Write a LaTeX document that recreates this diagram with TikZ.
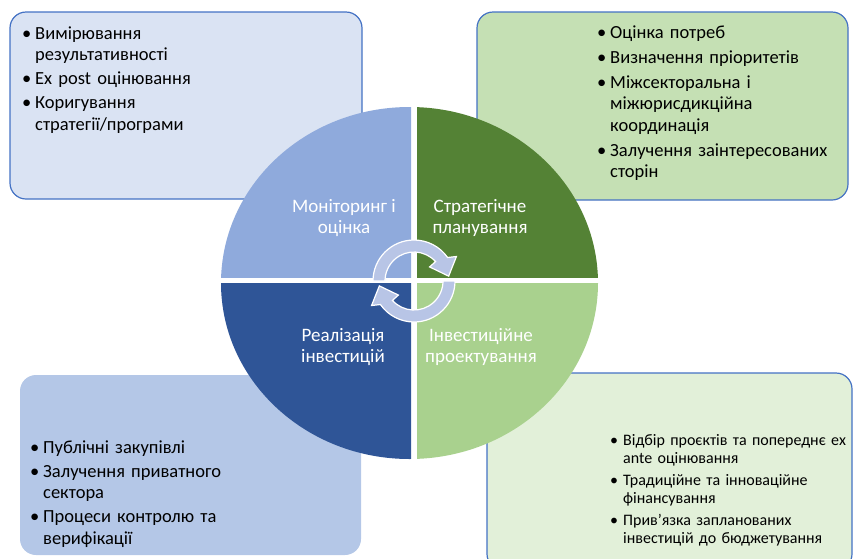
\documentclass[tikz,border=0pt]{standalone}
\usepackage{fontspec}
\setmainfont{Carlito}
\usepackage{tikz}

\definecolor{boxedge}{HTML}{4472C4}
\definecolor{monbox}{HTML}{DAE3F3}
\definecolor{planbox}{HTML}{C5E0B4}
\definecolor{implbox}{HTML}{B4C7E7}
\definecolor{invbox}{HTML}{E2F0D9}
\definecolor{monquad}{HTML}{8FAADC}
\definecolor{planquad}{HTML}{548235}
\definecolor{implquad}{HTML}{2F5597}
\definecolor{invquad}{HTML}{A9D18E}
\definecolor{arrowfill}{RGB}{184,197,230}

\newcommand{\pitem}[1]{\noindent\hangindent=13pt\hangafter=1\makebox[13pt][l]{\textbullet}#1\par}

\tikzset{
	listbox/.style={anchor=base west, inner sep=0pt, align=left, font=\fontsize{18.5}{21.5}\selectfont,
		execute at begin node={\setlength{\parskip}{2.5pt}}},
	phase/.style={text=white, align=center, inner sep=0pt, font=\fontsize{19}{20.5}\selectfont},
	cyclearrow/.style={fill=arrowfill, draw=white, line width=1.2pt}
}

\begin{document}
\begin{tikzpicture}[x=1pt,y=-1pt]
	\useasboundingbox (0,0) rectangle (854,558);
	\clip (0,0) rectangle (854,558);

	% boxes behind the wheel
	\draw[boxedge, line width=1.2pt, fill=monbox, rounded corners=16pt] (10,12) rectangle (362,199);
	\draw[boxedge, line width=1.2pt, fill=planbox, rounded corners=16pt] (477,12) rectangle (848,200);
	\fill[implbox, rounded corners=16pt] (20,375) rectangle (361,555);
	\draw[boxedge, line width=1.2pt, fill=invbox, rounded corners=16pt] (487,373) rectangle (852,570);

	\node[listbox, text width=230pt] (monlist) at (22,39) {%
		\pitem{Вимірювання\newline результативності}
		\pitem{Ex post оцінювання}
		\pitem{Коригування\newline стратегії/програми}};
	\node[listbox, text width=250pt, execute at begin node={\setlength{\parskip}{3.5pt}}] (planlist) at (597,38) {%
		\pitem{Оцінка потреб}
		\pitem{Визначення пріоритетів}
		\pitem{Міжсекторальна і\newline міжюрисдикційна\newline координація}
		\pitem{Залучення заінтересованих\newline сторін}};
	\node[listbox, text width=240pt] (impllist) at (30,453) {%
		\pitem{Публічні закупівлі}
		\pitem{Залучення приватного\newline сектора}
		\pitem{Процеси контролю та\newline верифікації}};
	\node[listbox, text width=250pt, font=\fontsize{16}{18}\selectfont,
		execute at begin node={\setlength{\parskip}{4pt}}] (invlist) at (610,445) {%
		\pitem{Відбір проєктів та попереднє ех\newline ante оцінювання}
		\pitem{Традиційне та інноваційне\newline фінансування}
		\pitem{Прив’язка запланованих\newline інвестицій до бюджетування}};

	% the wheel
	\foreach \xa/\ya/\xb/\yb/\col in {215/100/411/277/monquad, 417/100/605/277/planquad,
		215/283/411/465/implquad, 417/283/605/465/invquad}{
		\begin{scope}
			\clip (\xa,\ya) rectangle (\xb,\yb);
			\fill[\col] (409.5,283) ellipse [x radius=188.5, y radius=176];
		\end{scope}
	}

	\begin{scope}[shift={(414,281)}]
		\path[cyclearrow] (180:41) arc[start angle=180, end angle=325, radius=41] -- (330:49) -- (352:35)
			-- (318:21) -- (318:29) arc[start angle=318, end angle=180, radius=29] -- cycle;
		\path[cyclearrow] (0:41) arc[start angle=0, end angle=145, radius=41] -- (150:49) -- (172:35)
			-- (138:21) -- (138:29) arc[start angle=138, end angle=0, radius=29] -- cycle;
	\end{scope}

	\node[phase] (mon) at (344,218) {Моніторинг і\\оцінка};
	\node[phase] (plan) at (480,218) {Стратегічне\\планування};
	\node[phase] (impl) at (343,347) {Реалізація\\інвестицій};
	\node[phase] (inv) at (481,347) {Інвестиційне\\проектування};
\end{tikzpicture}
\end{document}
